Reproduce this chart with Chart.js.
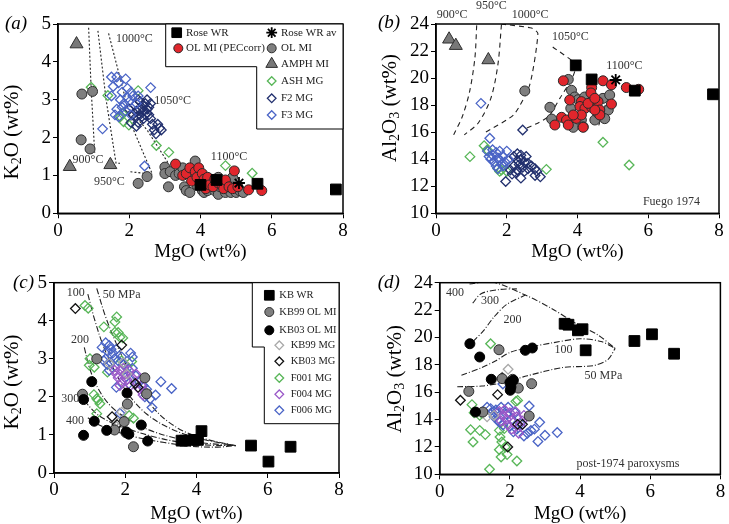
<!DOCTYPE html>
<html>
<head>
<meta charset="utf-8">
<script src="https://cdn.jsdelivr.net/npm/chart.js@4.4.0/dist/chart.umd.min.js"></script>
<style>
body{margin:0;background:#fff;width:729px;height:524px;position:relative;overflow:hidden}
canvas{position:absolute}
</style>
</head>
<body>
<canvas id="pa" width="365" height="262" style="left:0;top:0"></canvas>
<canvas id="pb" width="364" height="262" style="left:365px;top:0"></canvas>
<canvas id="pc" width="365" height="262" style="left:0;top:262px"></canvas>
<canvas id="pd" width="364" height="262" style="left:365px;top:262px"></canvas>
<script>
// ---- (a) K2O vs MgO, Fuego 1974 ----
const aRoseWR = [[4.0,0.75],[4.45,0.88],[5.6,0.78],[7.8,0.63]];
const aRoseWRav = [[5.08,0.8]];
const aOLMIpec = [[3.3,1.3],[3.5,1.0],[3.6,1.05],[3.7,1.2],[3.75,0.85],[3.85,1.1],[3.9,0.95],[3.95,1.2],[4.05,1.05],[4.1,0.9],[4.15,0.65],[4.2,0.95],[4.25,0.75],[4.35,0.7],[4.4,0.9],[4.5,0.8],[4.6,0.75],[4.65,0.65],[4.7,0.88],[4.8,0.7],[4.9,0.65],[4.95,1.12],[5.05,0.7],[5.35,0.62],[5.72,0.6]];
const aOLMI = [[0.67,3.15],[0.97,3.22],[0.65,1.94],[0.9,1.7],[2.25,0.79],[2.5,0.97],[3.1,0.7],[3.0,1.22],[3.0,1.05],[3.15,1.1],[3.3,1.0],[3.4,1.05],[3.5,1.2],[3.55,0.7],[3.6,0.6],[3.6,1.05],[3.7,0.55],[3.75,1.0],[3.85,1.38],[3.9,0.75],[4.0,0.9],[4.0,0.7],[4.05,0.6],[4.1,0.55],[4.2,0.6],[4.3,0.75],[4.3,0.9],[4.4,0.6],[4.5,0.5],[4.5,0.95],[4.55,0.7],[4.6,0.85],[4.7,0.55],[4.8,0.7],[4.85,0.55],[4.9,0.95],[5.0,0.55],[5.1,0.6],[5.2,0.55]];
const aAMPH = [[0.52,4.47],[0.33,1.23],[1.47,1.28]];
const aASH = [[0.93,3.33],[1.4,3.11],[1.75,2.55],[1.8,2.64],[1.84,2.42],[1.99,2.33],[2.25,3.24],[2.76,1.79],[3.11,1.61],[4.7,1.26],[5.45,1.06]];
const aF2 = [[2.2,2.3],[2.25,2.4],[2.3,2.6],[2.35,2.8],[2.4,2.7],[2.45,2.9],[2.5,2.65],[2.55,2.8],[2.3,2.95],[2.2,2.7],[2.15,2.85],[2.1,2.6],[2.6,2.5],[2.65,2.35],[2.7,2.2],[2.8,2.35],[2.85,2.25],[2.9,2.2],[2.75,2.1],[2.4,2.5],[2.5,3.0],[2.35,2.55],[2.45,2.6],[2.0,2.75],[2.3,2.75],[2.25,3.0],[2.55,2.6],[2.4,2.85],[2.5,2.75],[2.2,2.55],[2.6,2.9],[2.05,2.4]];
const aF3 = [[1.5,3.6],[1.65,3.6],[1.7,3.45],[1.9,3.55],[1.5,3.1],[1.6,2.6],[1.65,2.75],[1.8,3.2],[1.95,3.3],[2.05,3.2],[2.6,3.32],[1.25,2.23],[1.85,2.9],[2.0,2.95],[1.9,2.7],[2.05,2.6],[1.75,3.0],[1.8,2.8],[1.95,3.05],[2.1,3.1],[2.25,3.1],[2.43,1.25],[1.7,2.55],[2.2,2.9],[1.55,3.35]];
const aT900 = [[0.86,4.9],[0.93,3.3],[1.03,1.6]];
const aT950 = [[1.12,4.82],[1.35,3.0],[1.63,1.32],[1.74,1.32]];
const aT1000 = [[1.42,4.75],[2.12,2.2],[2.65,1.03],[2.02,1.1]];
const aT1050 = [[2.0,2.75],[2.5,2.2],[3.1,1.32]];

// ---- (b) Al2O3 vs MgO, Fuego 1974 ----
const bRoseWR = [[3.95,20.94],[4.4,19.9],[5.62,19.07],[7.83,18.8]];
const bRoseWRav = [[5.08,19.86]];
const bOLMIpec = [[3.6,19.8],[4.4,19.3],[4.38,18.9],[4.72,19.8],[4.96,19.5],[5.38,19.3],[5.73,19.17],[3.78,18.38],[4.11,18.26],[4.07,17.9],[4.21,17.76],[4.4,17.84],[4.58,18.26],[4.63,17.64],[4.96,18.08],[3.55,17.1],[3.69,16.9],[3.74,16.53],[3.36,16.53],[3.97,17.02],[4.11,17.27],[4.16,16.36],[3.88,17.27],[4.63,17.27],[4.49,17.64],[4.3,18.13],[4.49,18.5]];
const bOLMI = [[2.51,19.05],[3.22,17.84],[3.27,16.97],[3.74,19.9],[3.83,19.1],[3.81,17.76],[3.92,18.6],[4.02,18.4],[4.2,18.6],[3.88,16.36],[4.45,18.55],[4.49,18.13],[4.72,18.5],[4.91,18.75],[4.87,17.64],[4.77,17.0],[4.49,16.9],[4.11,16.9],[4.16,16.4],[4.58,17.4]];
const bAMPH = [[0.37,22.87],[0.56,22.4],[1.48,21.34]];
const bASH = [[0.96,14.19],[1.36,15.0],[1.45,14.7],[1.74,13.33],[1.8,13.1],[1.85,13.2],[2.0,13.1],[3.12,13.25],[4.72,15.25],[5.46,13.57]];
const bF2 = [[2.45,16.16],[2.2,14.2],[2.3,13.9],[2.4,14.0],[2.35,13.6],[2.5,13.8],[2.45,13.4],[2.2,13.5],[2.1,13.2],[2.15,12.9],[2.3,13.2],[2.4,12.6],[2.5,13.1],[2.6,13.7],[2.7,13.5],[2.8,13.3],[2.85,13.1],[2.8,12.8],[2.95,12.7],[1.97,12.35],[2.55,14.2],[2.3,14.4],[2.4,14.3],[2.6,13.3],[2.25,13.0]];
const bF3 = [[1.27,18.13],[1.52,15.55],[1.45,14.6],[1.6,14.3],[1.7,14.5],[1.55,14.0],[1.65,13.8],[1.75,14.1],[1.8,13.9],[1.9,14.2],[1.85,13.6],[1.7,13.5],[1.95,13.8],[2.0,14.6],[1.6,14.7],[1.8,14.6],[1.5,14.2],[1.9,13.5],[2.05,14.0],[1.75,13.3]];
const bT900 = [[1.15,23.9],[1.1,21.5],[0.95,19.0],[0.75,17.2],[0.5,15.8]];
const bT950 = [[1.85,23.95],[1.75,21.0],[1.55,18.5],[1.2,16.7],[0.8,15.8]];
const bT1000 = [[1.84,24.0],[2.7,23.7],[2.88,23.3],[2.65,19.5],[2.2,17.3],[1.4,16.0]];
const bT1050 = [[3.3,22.3],[3.95,21.0],[3.85,20.0],[3.5,18.5],[3.2,17.2],[2.9,16.7],[2.47,16.2]];
const bT1100 = [[5.08,19.86],[4.85,18.5],[4.6,16.5]];

// ---- (c) K2O vs MgO, post-1974 ----
const cKBWR = [[3.58,0.85],[3.68,0.85],[3.93,0.87],[4.04,0.87],[4.14,1.1],[5.53,0.72],[6.02,0.3],[6.64,0.69]];
const cKB99OL = [[1.2,3.0],[0.8,2.07],[2.55,2.5],[2.6,2.08],[2.06,1.81],[1.97,1.35],[1.7,1.13],[2.23,0.69],[2.02,1.06]];
const cKB03OL = [[1.06,2.4],[0.83,1.93],[1.13,1.36],[0.83,0.99],[1.48,1.12],[2.05,2.1],[2.03,1.08],[2.1,1.02],[2.45,1.26],[2.63,0.84]];
const cKB99MG = [[1.55,2.88],[1.8,1.32],[1.75,1.22],[1.9,1.6],[1.95,2.9],[2.05,2.6]];
const cKB03MG = [[0.6,4.32],[1.9,3.36],[1.63,1.48],[2.28,2.35],[2.36,2.25],[1.77,1.27]];
const cF001 = [[0.87,4.4],[0.96,4.33],[1.4,3.84],[1.76,4.1],[1.71,3.97],[1.71,3.7],[1.8,3.69],[1.85,3.57],[1.93,3.55],[1.01,3.0],[0.99,2.83],[1.13,2.78],[1.12,2.06],[1.2,1.95],[1.24,1.91],[1.29,1.82],[1.2,1.56],[2.18,2.93],[2.11,1.51],[2.23,1.44],[1.5,2.65],[1.9,2.95]];
const cF004 = [[1.75,2.6],[1.8,2.5],[1.85,2.7],[1.9,2.4],[2.0,2.6],[2.05,2.45],[2.1,2.7],[2.15,2.3],[2.2,2.5],[2.3,2.35],[2.4,2.2],[2.5,2.05],[2.55,2.15],[1.95,2.75],[2.3,2.6],[2.45,2.3],[1.85,2.3],[1.7,2.7]];
const cF006 = [[1.35,3.3],[1.45,3.42],[1.5,3.2],[1.55,3.35],[1.6,3.25],[1.65,3.15],[1.45,3.0],[1.5,2.85],[1.55,2.7],[1.4,2.95],[1.7,3.0],[1.75,3.25],[1.8,2.95],[1.9,3.05],[1.95,2.85],[2.05,2.75],[2.15,3.15],[2.2,3.05],[2.2,2.75],[2.3,2.55],[2.4,2.4],[2.5,2.3],[2.55,2.0],[2.7,1.95],[2.75,1.72],[2.85,2.05],[3.0,2.4],[3.3,2.22],[1.75,2.25],[1.85,1.57],[2.6,2.2],[1.6,2.9],[2.0,2.5],[2.1,2.35]];
const cP50 = [[1.2,4.85],[1.45,4.1],[1.75,3.4],[2.05,2.8],[2.4,2.2],[2.8,1.7],[3.2,1.35],[3.7,1.07],[4.3,0.88],[5.1,0.72]];
const cP100 = [[0.95,4.7],[1.15,4.0],[1.4,3.3],[1.75,2.6],[2.1,2.05],[2.6,1.55],[3.2,1.2],[3.9,0.95],[4.5,0.82],[5.1,0.72]];
const cP200 = [[0.85,3.3],[1.0,2.75],[1.25,2.2],[1.6,1.75],[2.1,1.4],[2.7,1.12],[3.4,0.92],[4.2,0.79],[5.1,0.72]];
const cP300 = [[0.85,1.9],[1.2,1.55],[1.6,1.33],[2.2,1.12],[2.9,0.93],[3.6,0.8],[4.4,0.73],[5.1,0.72]];
const cP400 = [[0.95,1.45],[1.3,1.25],[1.8,1.07],[2.4,0.92],[3.1,0.8],[3.9,0.7],[4.6,0.68],[5.1,0.72]];

// ---- (d) Al2O3 vs MgO, post-1974 ----
const dKBWR = [[3.56,21.0],[3.67,20.93],[3.94,20.52],[4.07,20.6],[4.16,19.06],[5.55,19.74],[6.05,20.23],[6.68,18.81]];
const dKB99OL = [[1.69,19.1],[0.83,16.06],[1.23,14.55],[2.08,16.94],[2.24,16.3],[2.62,16.62],[2.55,14.26],[1.78,16.99]];
const dKB03OL = [[0.86,19.54],[1.14,18.57],[1.47,16.94],[2.44,19.06],[2.64,19.23],[2.0,16.7],[2.03,16.38],[2.01,16.14],[1.02,14.55],[2.1,16.87]];
const dKB99MG = [[1.95,17.67],[1.78,17.1],[1.35,14.2],[2.05,16.5],[1.55,14.3]];
const dKB03MG = [[0.59,15.41],[1.65,15.82],[1.78,17.04],[2.22,13.65],[2.36,13.65],[1.94,12.0]];
const dF001 = [[1.45,19.54],[0.92,15.09],[0.98,14.5],[1.14,14.31],[0.88,13.26],[0.95,12.36],[1.14,13.21],[1.3,12.9],[1.7,13.21],[1.72,12.73],[1.77,12.36],[1.7,11.8],[1.75,11.27],[1.87,12.0],[1.92,11.44],[1.42,10.37],[2.2,10.97],[2.22,15.4],[2.17,15.33],[1.84,13.34],[1.2,14.45]];
const dF004 = [[1.7,14.6],[1.8,14.3],[1.9,14.0],[2.0,14.5],[2.1,13.8],[2.2,14.2],[2.3,13.5],[2.4,14.3],[1.95,13.6],[2.05,13.3],[2.15,14.6],[2.35,13.9],[1.85,14.7],[2.25,13.0],[1.75,13.9]];
const dF006 = [[1.35,14.9],[1.45,14.8],[1.5,14.5],[1.55,14.2],[1.6,14.7],[1.65,14.0],[1.7,13.8],[1.75,14.9],[1.8,13.6],[1.9,14.4],[2.0,13.5],[2.05,14.0],[2.1,13.1],[2.15,14.5],[2.2,13.3],[2.3,13.7],[2.4,12.8],[2.5,13.0],[2.55,14.99],[2.6,13.2],[2.7,13.3],[2.8,12.4],[2.85,13.8],[3.0,12.85],[3.35,13.05],[1.95,14.9],[1.8,16.6],[1.6,14.5]];
const dTop = [[0.85,23.9],[1.5,24.05],[2.44,23.1],[3.2,22.1],[3.9,21.0],[4.5,20.2],[5.0,19.2]];
const dP300 = [[0.94,22.5],[1.18,23.2],[1.7,23.5],[2.2,23.55]];
const dP200 = [[0.95,19.7],[1.25,20.5],[1.55,21.5],[1.9,22.4],[2.44,23.1]];
const dP100 = [[0.62,17.23],[1.2,17.8],[1.6,18.3],[2.0,18.9],[2.6,19.3],[3.2,19.6],[4.0,19.9],[4.6,19.7],[5.0,19.2]];
const dP50 = [[0.5,16.4],[1.2,16.45],[1.8,16.7],[2.5,17.2],[3.5,17.8],[4.4,17.95],[4.8,18.4],[5.0,19.2]];

const SERIF = '"Liberation Serif", "Times New Roman", serif';

// marker styles
const ST = {
  sq:     {ps:'rect', r:7.6, bg:'#000', bc:'#000', bw:1},
  star:   {ps:'star', r:6, bg:'#000', bc:'#000', bw:1.8},
  red:    {ps:'circle', r:5, bg:'#e1262c', bc:'#2a2a2a', bw:1},
  gray:   {ps:'circle', r:5, bg:'#7f7f7f', bc:'#2e2e2e', bw:1},
  blk:    {ps:'circle', r:5, bg:'#000', bc:'#000', bw:1},
  tri:    {ps:'triangle', r:7.5, bg:'#787878', bc:'#2e2e2e', bw:1},
  green:  {ps:'rectRot', r:4.8, bg:'rgba(0,0,0,0)', bc:'#58b658', bw:1.3},
  navy:   {ps:'rectRot', r:4.8, bg:'rgba(0,0,0,0)', bc:'#22306e', bw:1.3},
  blue:   {ps:'rectRot', r:4.8, bg:'rgba(0,0,0,0)', bc:'#4a64c6', bw:1.3},
  purple: {ps:'rectRot', r:4.8, bg:'rgba(0,0,0,0)', bc:'#9a58c8', bw:1.3},
  lgray:  {ps:'rectRot', r:4.8, bg:'rgba(0,0,0,0)', bc:'#a9a9a9', bw:1.3},
  bdia:   {ps:'rectRot', r:4.8, bg:'rgba(0,0,0,0)', bc:'#111', bw:1.3}
};

function pts(arr){ return arr.map(p => ({x:p[0], y:p[1]})); }

function pointSet(arr, st, order){
  const s = ST[st];
  return {data:pts(arr), showLine:false, clip:false, order:order,
    pointStyle:s.ps, pointRadius:s.r, pointBackgroundColor:s.bg,
    pointBorderColor:s.bc, pointBorderWidth:s.bw};
}

function lineSet(arr, dash, tension){
  return {data:pts(arr), showLine:true, pointRadius:0, order:200,
    borderColor:'#222', borderWidth:1.1, borderDash:dash, tension:tension, fill:false};
}

// legend marker, same shapes as chart.js point styles
function marker(ctx, st, x, y, scale){
  const s = ST[st], r = s.r * scale;
  ctx.save();
  ctx.fillStyle = s.bg.indexOf('rgba') === 0 ? '#fff' : s.bg;
  ctx.strokeStyle = s.bc; ctx.lineWidth = s.bw;
  ctx.beginPath();
  if (s.ps === 'circle') ctx.arc(x, y, r, 0, Math.PI*2);
  else if (s.ps === 'rect') { const h = r*Math.SQRT1_2; ctx.rect(x-h, y-h, 2*h, 2*h); }
  else if (s.ps === 'rectRot') { ctx.moveTo(x, y-r); ctx.lineTo(x+r, y); ctx.lineTo(x, y+r); ctx.lineTo(x-r, y); ctx.closePath(); }
  else if (s.ps === 'triangle') { ctx.moveTo(x, y-r); ctx.lineTo(x+r*0.866, y+r/2); ctx.lineTo(x-r*0.866, y+r/2); ctx.closePath(); }
  if (s.ps === 'star') {
    for (let k = 0; k < 4; k++) { const a = k*Math.PI/4; ctx.moveTo(x-Math.cos(a)*r, y-Math.sin(a)*r); ctx.lineTo(x+Math.cos(a)*r, y+Math.sin(a)*r); }
    ctx.stroke();
  } else { ctx.fill(); ctx.stroke(); }
  ctx.restore();
}

function decor(spec){
  return {
    id:'decor',
    afterDraw(chart){
      const {ctx, chartArea:a, scales} = chart;
      ctx.save();
      // frame
      ctx.strokeStyle = '#000'; ctx.lineWidth = 1.5;
      ctx.strokeRect(a.left, a.top, a.right-a.left, a.bottom-a.top);
      // notes on curves
      ctx.fillStyle = '#333'; ctx.textBaseline = 'middle'; ctx.textAlign = 'left';
      ctx.font = '12px ' + SERIF;
      spec.notes.forEach(n => ctx.fillText(n[0], scales.x.getPixelForValue(n[1]), scales.y.getPixelForValue(n[2])));
      // panel letter
      ctx.fillStyle = '#000';
      ctx.font = 'italic 19px ' + SERIF;
      ctx.fillText(spec.letter[0], spec.letter[1], spec.letter[2]);
      // y title with subscripts
      ctx.translate(spec.yt[1], spec.yt[2]); ctx.rotate(-Math.PI/2);
      const big = '21px ' + SERIF, small = '14px ' + SERIF;
      let w = 0;
      spec.yt[0].forEach(p => { ctx.font = p[1] ? small : big; w += ctx.measureText(p[0]).width; });
      let x = -w/2;
      spec.yt[0].forEach(p => { ctx.font = p[1] ? small : big; ctx.fillText(p[0], x, p[1] ? 5 : 0); x += ctx.measureText(p[0]).width; });
      ctx.restore();
      // legend box
      if (spec.legend) {
        const L = spec.legend;
        ctx.save();
        ctx.beginPath();
        L.poly.forEach((p, i) => i ? ctx.lineTo(p[0], p[1]) : ctx.moveTo(p[0], p[1]));
        ctx.closePath();
        ctx.fillStyle = '#fff'; ctx.fill();
        ctx.strokeStyle = '#000'; ctx.lineWidth = 1; ctx.stroke();
        ctx.font = L.font + 'px ' + SERIF; ctx.fillStyle = '#222'; ctx.textBaseline = 'middle'; ctx.textAlign = 'left';
        L.items.forEach(it => { marker(ctx, it[1], it[2], it[3], 0.9); ctx.fillText(it[0], it[4], it[3]); });
        ctx.restore();
      }
    }
  };
}

function panel(id, box, yr, sets, spec){
  const cv = document.getElementById(id);
  const W = cv.width, H = cv.height;
  const font = {family:SERIF, size:19};
  new Chart(cv, {
    type:'scatter',
    data:{datasets:sets},
    options:{
      responsive:false, animation:false, events:[],
      layout:{padding:{left:0, top:box.top, right:W-box.right, bottom:0}},
      plugins:{legend:{display:false}, tooltip:{enabled:false}},
      scales:{
        x:{type:'linear', min:0, max:8,
           ticks:{stepSize:2, color:'#000', font:font, padding:1},
           grid:{drawOnChartArea:false, tickLength:5, color:'#000'},
           border:{color:'#000', width:1.5},
           title:{display:true, text:'MgO (wt%)', color:'#000', font:{family:SERIF, size:19, lineHeight:1}, padding:0},
           afterFit(s){ s.height = H - box.bottom; }},
        y:{type:'linear', min:yr[0], max:yr[1],
           ticks:{stepSize:yr[2], color:'#000', font:font, padding:2},
           grid:{drawOnChartArea:false, tickLength:5, color:'#000'},
           border:{color:'#000', width:1.5},
           afterFit(s){ s.width = box.left; }}
      }
    },
    plugins:[decor(spec)]
  });
}

panel('pa', {left:58, top:24, right:343, bottom:213.3}, [0,5,1], [
  pointSet(aRoseWRav,'star',1), pointSet(aRoseWR,'sq',2), pointSet(aOLMIpec,'red',3),
  pointSet(aOLMI,'gray',4), pointSet(aAMPH,'tri',5),
  pointSet(aASH,'green',8), pointSet(aF2,'navy',7), pointSet(aF3,'blue',6),
  lineSet(aT900,[2,2],0), lineSet(aT950,[2,2],0), lineSet(aT1000,[2,2],0), lineSet(aT1050,[2,2],0)
], {
  letter:['(a)',5,24], yt:[[['K',0],['2',1],['O (wt%)',0]],12,132],
  notes:[['1000°C',1.63,4.62],['1050°C',2.7,2.96],['1100°C',4.29,1.49],['900°C',0.41,1.41],['950°C',1.01,0.83]],
  legend:{font:11, poly:[[165.7,24],[343,24],[343,129],[256.7,129],[256.7,66.7],[165.7,66.7]],
    items:[['Rose WR','sq',176.7,32.7,186],['Rose WR av','star',271.7,32.7,281],
      ['OL MI (PECcorr)','red',178.3,48.3,186],['OL MI','gray',271.7,48.3,281],
      ['AMPH MI','tri',271.7,64,281],['ASH MG','green',271.7,81,281],
      ['F2 MG','navy',271.7,98.3,281],['F3 MG','blue',271.7,115,281]]}
});

panel('pb', {left:71, top:24, right:354, bottom:213.3}, [10,24,2], [
  pointSet(bRoseWRav,'star',1), pointSet(bRoseWR,'sq',2), pointSet(bOLMIpec,'red',3),
  pointSet(bOLMI,'gray',4), pointSet(bAMPH,'tri',5),
  pointSet(bASH,'green',8), pointSet(bF2,'navy',7), pointSet(bF3,'blue',6),
  lineSet(bT900,[5,4],0.3), lineSet(bT950,[5,4],0.3), lineSet(bT1000,[5,4],0.2), lineSet(bT1050,[5,4],0.2), lineSet(bT1100,[5,4],0.2)
], {
  letter:['(b)',13,23], yt:[[['Al',0],['2',1],['O',0],['3',1],[' (wt%)',0]],25,108],
  notes:[['900°C',0.02,24.67],['950°C',1.13,25.33],['1000°C',2.14,24.67],['1050°C',3.28,23.02],['1100°C',4.81,20.9],['Fuego 1974',5.85,10.86]]
});

panel('pc', {left:54, top:20.7, right:339, bottom:211}, [0,5,1], [
  pointSet(cKBWR,'sq',1), pointSet(cKB03OL,'blk',2), pointSet(cKB99OL,'gray',3),
  pointSet(cKB03MG,'bdia',4), pointSet(cKB99MG,'lgray',5), pointSet(cF004,'purple',6),
  pointSet(cF006,'blue',7), pointSet(cF001,'green',8),
  lineSet(cP50,[6,2,1,2],0.35), lineSet(cP100,[6,2,1,2],0.35), lineSet(cP200,[6,2,1,2],0.35), lineSet(cP300,[6,2,1,2],0.35), lineSet(cP400,[6,2,1,2],0.35)
], {
  letter:['(c)',13,20.7], yt:[[['K',0],['2',1],['O (wt%)',0]],12,120],
  notes:[['100',0.36,4.74],['50 MPa',1.37,4.67],['200',0.48,3.49],['300',0.2,1.94],['400',0.34,1.36]],
  legend:{font:10.5, poly:[[252.3,20.7],[339,20.7],[339,161.7],[264.3,161.7],[264.3,85],[252.3,85]],
    items:[['KB WR','sq',269.3,33.3,279.3],['KB99 OL MI','gray',269.3,50,279.3],['KB03 OL MI','blk',269.3,68.3,279.3],
      ['KB99 MG','lgray',279.3,83.3,290.7],['KB03 MG','bdia',279.3,99.3,290.7],['F001 MG','green',279.3,116,290.7],
      ['F004 MG','purple',279.3,132.3,290.7],['F006 MG','blue',279.3,148.3,290.7]]}
});

panel('pd', {left:74.7, top:20.7, right:358.3, bottom:212.3}, [10,24,2], [
  pointSet(dKBWR,'sq',1), pointSet(dKB03OL,'blk',2), pointSet(dKB99OL,'gray',3),
  pointSet(dKB03MG,'bdia',4), pointSet(dKB99MG,'lgray',5), pointSet(dF004,'purple',6),
  pointSet(dF006,'blue',7), pointSet(dF001,'green',8),
  lineSet(dTop,[6,2,1,2],0.3), lineSet(dP300,[6,2,1,2],0.3), lineSet(dP200,[6,2,1,2],0.3), lineSet(dP100,[6,2,1,2],0.3), lineSet(dP50,[6,2,1,2],0.3)
], {
  letter:['(d)',12.7,20.7], yt:[[['Al',0],['2',1],['O',0],['3',1],[' (wt%)',0]],30,117],
  notes:[['400',0.18,23.27],['300',1.18,22.71],['200',1.82,21.32],['100',3.27,19.13],['50 MPa',4.13,17.23],['post-1974 paroxysms',3.9,10.77]]
});
</script>
</body>
</html>
